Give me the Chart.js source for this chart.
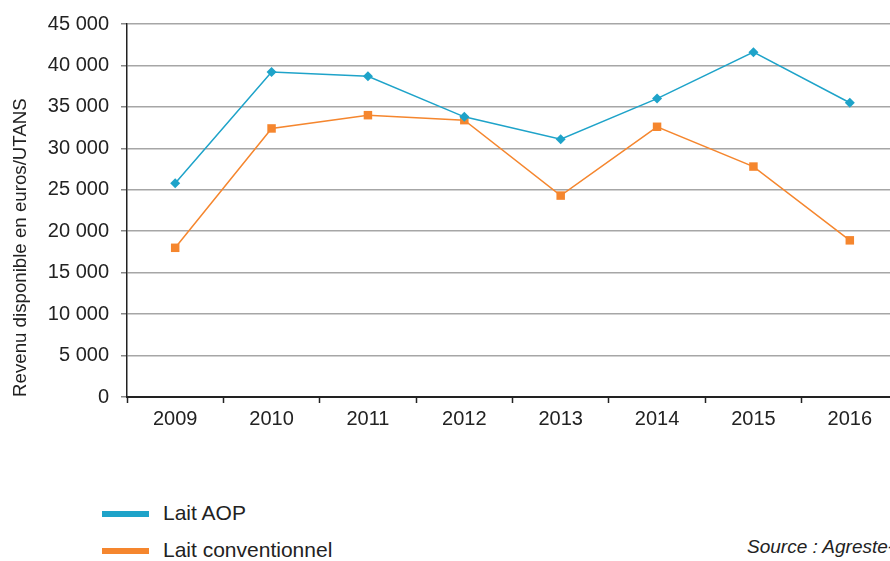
<!DOCTYPE html>
<html>
<head>
<meta charset="utf-8">
<script src="https://cdn.jsdelivr.net/npm/chart.js@4/dist/chart.umd.min.js"></script>
<style>
body{margin:0;width:890px;height:561px;overflow:hidden;background:#fff;font-family:"Liberation Sans",Arial,sans-serif;position:relative;}
#wrap{position:absolute;left:0;top:0;width:905px;height:440px;}
.leg{position:absolute;left:102px;font-size:21px;color:#222;}
.leg span.sw{position:absolute;left:0;top:-3px;width:47px;height:6px;}
.leg span.tx{position:absolute;left:61px;top:-13px;white-space:nowrap;}
#source{position:absolute;left:747px;top:536px;font-size:19px;font-style:italic;color:#222;white-space:nowrap;}
</style>
</head>
<body>
<div id="wrap"><canvas id="revenuChart"></canvas></div>
<div id="legend"></div>
<div id="source">Source : Agreste-</div>
<script>
var years = ["2009","2010","2011","2012","2013","2014","2015","2016"];
var laitAOP = [25800, 39200, 38700, 33800, 31100, 36000, 41600, 35500];
var laitConventionnel = [18000, 32400, 34000, 33400, 24300, 32600, 27800, 18900];
var yTicks = [0, 5000, 10000, 15000, 20000, 25000, 30000, 35000, 40000, 45000];

var blue = '#1ea3c9';
var orange = '#f5862e';

//espace milliers
function spaceThousands(v) {
	return String(v).replace(/(\d)(?=(?:\d{3})+(?!\d))/g, '$1 ');
}

var aop = {
	label: 'Lait AOP',
	data: laitAOP,
	borderColor: blue,
	backgroundColor: blue,
	borderWidth: 1.5,
	pointStyle: 'rectRot',
	pointRadius: 5,
	pointBorderWidth: 0,
	fill: false,
	tension: 0
};

var conv = {
	label: 'Lait conventionnel',
	data: laitConventionnel,
	borderColor: orange,
	backgroundColor: orange,
	borderWidth: 1.5,
	pointStyle: 'rect',
	pointRadius: 6,
	pointBorderWidth: 0,
	fill: false,
	tension: 0
};

var chart = new Chart(document.getElementById("revenuChart"), {
	type: 'line',
	data: { labels: years, datasets: [aop, conv] },
	options: {
		responsive: true,
		maintainAspectRatio: false,
		animation: false,
		layout: { padding: { top: 22, right: 7, left: 0, bottom: 0 } },
		plugins: { legend: { display: false }, tooltip: { enabled: false } },
		scales: {
			x: {
				offset: true,
				grid: { offset: true, drawOnChartArea: false, drawTicks: true, tickLength: 6, color: '#222', tickWidth: 1.5 },
				border: { color: '#222', width: 2 },
				ticks: { color: '#222', font: { family: 'Liberation Sans', size: 20 }, padding: 4 },
				afterFit: function(scale){ scale.height = 43; }
			},
			y: {
				min: 0,
				max: 45000,
				afterBuildTicks: function(scale){ scale.ticks = yTicks.map(function(v){ return { value: v }; }); },
				grid: { color: '#a6a6a6', lineWidth: 1.5, tickLength: 6, tickColor: '#888' },
				border: { color: '#222', width: 1.5 },
				ticks: { color: '#222', font: { family: 'Liberation Sans', size: 20 }, padding: 12,
					callback: function(v){ return spaceThousands(v); } },
				title: { display: true, text: 'Revenu disponible en euros/UTANS', color: '#222', align: 'start',
					font: { family: 'Liberation Sans', size: 18.7 }, padding: { top: 10, bottom: 0 } },
				afterFit: function(scale){ scale.width = 127; }
			}
		}
	}
});

// légende html
var legendHtml = '';
var rows = [514, 551];
chart.data.datasets.forEach(function(ds, i){
	legendHtml += '<div class="leg" style="top:' + rows[i] + 'px"><span class="sw" style="background:' + ds.borderColor + '"></span><span class="tx">' + ds.label + '</span></div>';
});
document.getElementById("legend").innerHTML = legendHtml;
</script>
</body>
</html>
